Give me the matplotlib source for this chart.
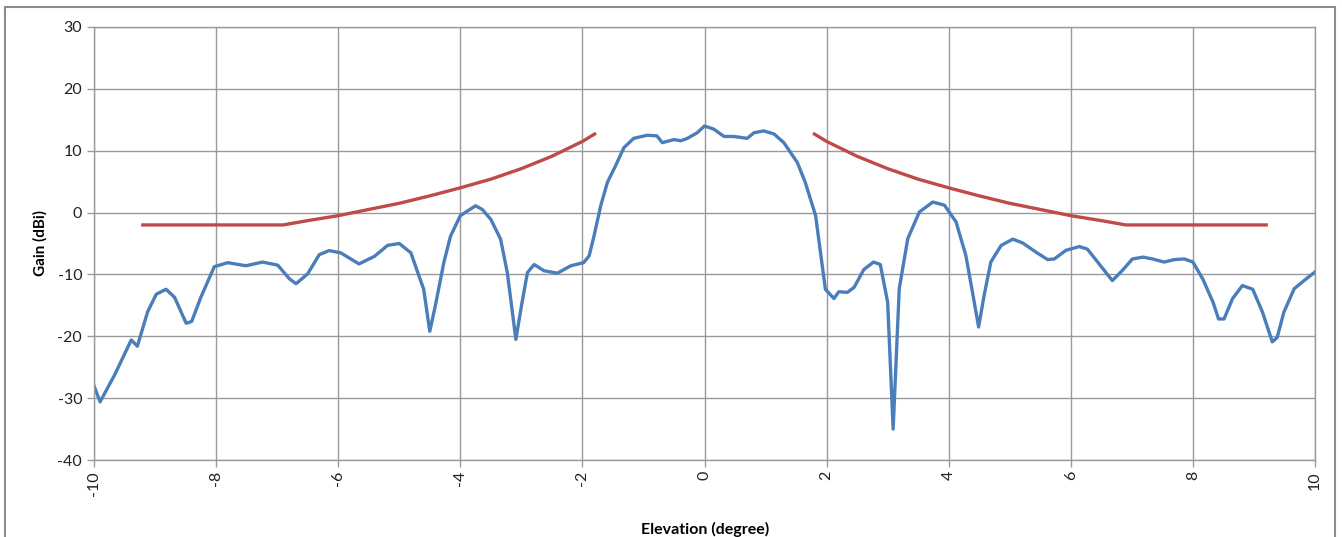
import matplotlib
matplotlib.use("Agg")
import matplotlib.pyplot as plt
from matplotlib.patches import Rectangle

# Measured antenna gain pattern (blue)
elev = [-10.0, -9.90, -9.66, -9.39, -9.29, -9.12, -8.98, -8.82, -8.68, -8.49,
        -8.40, -8.25, -8.03, -7.81, -7.51, -7.24, -6.99, -6.80, -6.69, -6.50,
        -6.31, -6.15, -5.96, -5.66, -5.41, -5.19, -5.00, -4.81, -4.60, -4.50,
        -4.41, -4.27, -4.16, -4.00, -3.75, -3.64, -3.50, -3.34, -3.23, -3.09,
        -2.99, -2.90, -2.79, -2.63, -2.41, -2.19, -1.98, -1.89, -1.81, -1.70,
        -1.59, -1.46, -1.32, -1.16, -0.94, -0.78, -0.69, -0.50, -0.39, -0.28,
        -0.12, 0.00, 0.15, 0.32, 0.48, 0.70, 0.81, 0.97, 1.14, 1.30,
        1.52, 1.65, 1.82, 1.98, 2.12, 2.20, 2.34, 2.45, 2.61, 2.77,
        2.88, 3.00, 3.09, 3.19, 3.33, 3.52, 3.74, 3.93, 4.12, 4.28,
        4.39, 4.49, 4.58, 4.69, 4.86, 5.05, 5.21, 5.43, 5.62, 5.73,
        5.92, 6.14, 6.27, 6.44, 6.68, 6.84, 7.01, 7.18, 7.34, 7.53,
        7.70, 7.86, 8.00, 8.16, 8.33, 8.42, 8.51, 8.65, 8.81, 8.98,
        9.14, 9.30, 9.38, 9.49, 9.66, 9.82, 10.0]
gain = [-28.0, -30.6, -26.2, -20.6, -21.6, -16.0, -13.2, -12.4, -13.7, -17.9,
        -17.6, -13.7, -8.75, -8.1, -8.6, -8.0, -8.5, -10.7, -11.5, -9.9,
        -6.8, -6.15, -6.5, -8.3, -7.1, -5.3, -5.0, -6.5, -12.4, -19.2,
        -15.1, -8.1, -3.8, -0.5, 1.1, 0.5, -1.1, -4.3, -9.7, -20.5,
        -14.6, -9.7, -8.4, -9.4, -9.8, -8.6, -8.1, -7.0, -3.8, 1.1,
        4.9, 7.5, 10.5, 12.0, 12.5, 12.4, 11.3, 11.8, 11.6, 12.0,
        12.9, 14.0, 13.5, 12.3, 12.3, 12.0, 12.9, 13.2, 12.7, 11.3,
        8.1, 4.9, -0.5, -12.4, -13.9, -12.8, -12.9, -12.1, -9.2, -8.0,
        -8.4, -14.5, -35.0, -12.3, -4.2, 0.1, 1.7, 1.2, -1.5, -6.9,
        -12.9, -18.5, -13.4, -8.0, -5.3, -4.3, -4.9, -6.4, -7.6, -7.5,
        -6.1, -5.5, -5.9, -8.0, -11.0, -9.4, -7.5, -7.2, -7.5, -8.0,
        -7.6, -7.5, -8.0, -10.7, -14.5, -17.2, -17.2, -13.9, -11.8, -12.4,
        -16.1, -20.9, -20.2, -16.1, -12.3, -11.0, -9.6]

# Mask (red), left and right branches
mask_left_x = [-9.2, -8.0, -6.9, -6.5, -6.0, -5.5, -5.0, -4.5, -4.0, -3.5, -3.0, -2.5, -2.0, -1.8]
mask_left_y = [-2.0, -2.0, -2.0, -1.3, -0.5, 0.5, 1.5, 2.7, 4.0, 5.4, 7.1, 9.1, 11.5, 12.7]
mask_right_x = [1.8, 2.0, 2.5, 3.0, 3.5, 4.0, 4.5, 5.0, 5.5, 6.0, 6.5, 6.9, 8.0, 9.2]
mask_right_y = [12.7, 11.5, 9.1, 7.1, 5.4, 4.0, 2.7, 1.5, 0.5, -0.5, -1.3, -2.0, -2.0, -2.0]

xticks = [-10, -8, -6, -4, -2, 0, 2, 4, 6, 8, 10]
yticks = [-40, -30, -20, -10, 0, 10, 20, 30]

plt.rcParams['font.family'] = ['Lato', 'DejaVu Sans']
plt.rcParams['axes.unicode_minus'] = False

W, H = 1342, 537
fig = plt.figure(figsize=(W / 100, H / 100), dpi=100)
ax = fig.add_axes([94 / W, 1 - 460 / H, (1315 - 94) / W, (460 - 27) / H])

grid_c = '#9a9a9a'
ax.set_xlim(-10, 10)
ax.set_ylim(-40, 30)
ax.set_xticks(xticks)
ax.set_yticks(yticks)
ax.set_xticklabels([str(t) for t in xticks], rotation=90)
ax.set_yticklabels([str(t) for t in yticks])
ax.grid(True, color=grid_c, linewidth=1.0)
ax.set_axisbelow(True)
for s in ax.spines.values():
    s.set_color(grid_c)
    s.set_linewidth(1.0)
ax.tick_params(axis='both', colors=grid_c, length=5, width=1.0, labelcolor='#222222', labelsize=11.5)
ax.tick_params(axis='x', pad=3)

ax.plot(elev, gain, color='#4a7ebb', linewidth=2.4, solid_joinstyle='round')
ax.plot(mask_left_x, mask_left_y, color='#be4b48', linewidth=2.4)
ax.plot(mask_right_x, mask_right_y, color='#be4b48', linewidth=2.4)

fig.text(40 / W, 1 - 243 / H, 'Gain (dBi)', ha='center', va='center', rotation=90,
         fontweight='bold', fontsize=11)
fig.text(705 / W, 1 - 529 / H, 'Elevation (degree)', ha='center', va='center',
         fontweight='bold', fontsize=11.5)

frame = Rectangle((5 / W, -0.05), (1335 - 5) / W, 1.05 - 7 / H, transform=fig.transFigure,
                  fill=False, edgecolor='#8c8c8c', linewidth=1.5, clip_on=False)
fig.patches.append(frame)

fig.savefig('out.png', dpi=100)
